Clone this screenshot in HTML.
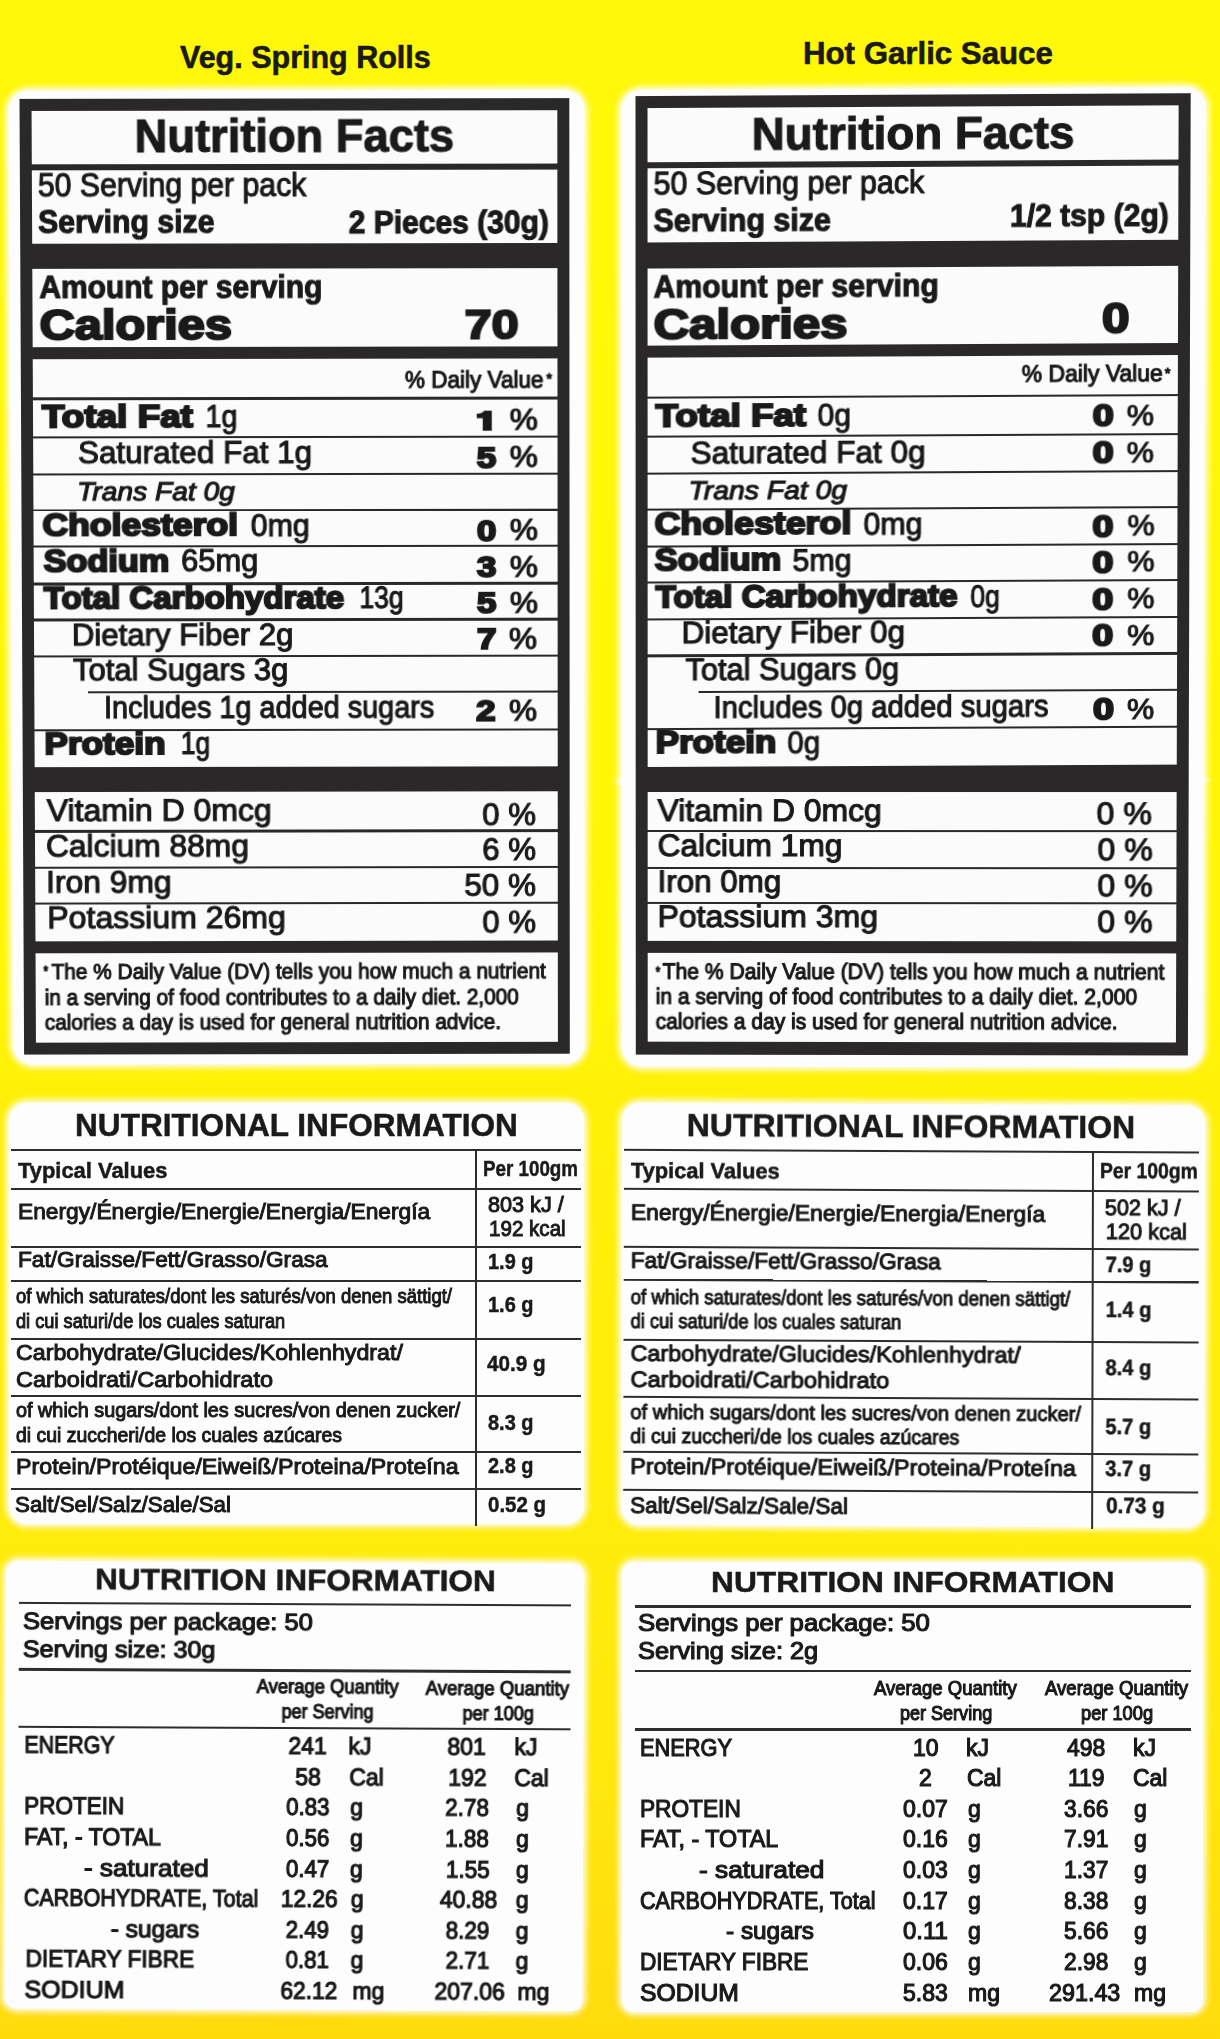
<!DOCTYPE html>
<html><head><meta charset="utf-8"><title>Nutrition labels</title>
<style>
html,body{margin:0;padding:0;}
body{width:1220px;height:2039px;overflow:hidden;position:relative;font-family:"Liberation Sans",sans-serif;color:#1a1a1a;
background:linear-gradient(180deg,#fff808 0px,#fff606 1000px,#fff008 1090px,#ffec0a 1540px,#ffe60c 1800px,#ffdb0c 2039px);}
.t{position:absolute;white-space:pre;line-height:1;transform-origin:0 84.65%;}
.r{position:absolute;}
.p{position:absolute;background:#fdfdfd;}
.g{position:absolute;left:0;top:0;width:1220px;height:2039px;}
</style></head><body>
<div class="t" style="left:179.70px;top:41.56px;font-size:31.00px;font-weight:700;-webkit-text-stroke:0.6px #1a1a1a;transform:scaleX(0.9836);">Veg. Spring Rolls</div>
<div class="t" style="left:802.60px;top:38.36px;font-size:31.00px;font-weight:700;-webkit-text-stroke:0.6px #1a1a1a;transform:scaleX(1.0070);">Hot Garlic Sauce</div>
<div class="r" style="left:23.00px;top:101.00px;width:544.00px;height:950.00px;background:#2a2828;"></div>
<div class="g" style="transform-origin:0 0;transform:matrix3d(1.00052666,-0.00143572986,0,2.03288916e-07,0.00500499194,1.00875529,0,7.86506784e-06,0,0,1,0,-0.985912916,0.147327869,0,1);">
<div class="g" style="clip-path:inset(0.0px 0 0.0px 0);">
<div class="p" style="left:9px;top:89.5px;width:575.5px;height:974.5px;border-radius:20px;box-shadow:0 0 6px 3px #fdfdfd;"></div>
<div class="r" style="left:20.00px;top:98.00px;width:550.00px;height:956.00px;background:#2a2828;"></div>
<div class="r" style="left:31.50px;top:109.68px;width:526.50px;height:53.05px;background:#fbfbfb;"></div>
<div class="r" style="left:31.50px;top:168.69px;width:526.50px;height:73.20px;background:#fbfbfb;"></div>
<div class="r" style="left:31.50px;top:267.07px;width:526.50px;height:77.70px;background:#fbfbfb;"></div>
<div class="r" style="left:31.50px;top:357.02px;width:526.50px;height:408.34px;background:#fbfbfb;"></div>
<div class="r" style="left:31.50px;top:790.25px;width:526.50px;height:149.93px;background:#fbfbfb;"></div>
<div class="r" style="left:31.50px;top:952.05px;width:526.50px;height:89.82px;background:#fbfbfb;"></div>
<div class="r" style="left:31.50px;top:395.41px;width:526.50px;height:2.20px;background:#2a2828;"></div>
<div class="r" style="left:31.50px;top:433.93px;width:526.50px;height:2.20px;background:#2a2828;"></div>
<div class="r" style="left:31.50px;top:470.77px;width:526.50px;height:2.20px;background:#2a2828;"></div>
<div class="r" style="left:31.50px;top:506.54px;width:526.50px;height:2.20px;background:#2a2828;"></div>
<div class="r" style="left:31.50px;top:543.12px;width:526.50px;height:2.20px;background:#2a2828;"></div>
<div class="r" style="left:31.50px;top:580.32px;width:526.50px;height:2.20px;background:#2a2828;"></div>
<div class="r" style="left:31.50px;top:616.45px;width:526.50px;height:2.20px;background:#2a2828;"></div>
<div class="r" style="left:31.50px;top:652.59px;width:526.50px;height:2.20px;background:#2a2828;"></div>
<div class="r" style="left:31.50px;top:726.75px;width:526.50px;height:2.20px;background:#2a2828;"></div>
<div class="r" style="left:31.50px;top:828.41px;width:526.50px;height:2.20px;background:#2a2828;"></div>
<div class="r" style="left:31.50px;top:864.87px;width:526.50px;height:2.20px;background:#2a2828;"></div>
<div class="r" style="left:31.50px;top:900.96px;width:526.50px;height:2.20px;background:#2a2828;"></div>
<div class="r" style="left:85.56px;top:689.30px;width:472.44px;height:2.20px;background:#2a2828;"></div>
<div class="t" style="left:134.74px;top:113.02px;font-size:45.50px;font-weight:700;-webkit-text-stroke:1.1px #1a1a1a;transform:scaleX(0.9959);">Nutrition Facts</div>
<div class="t" style="left:37.89px;top:168.35px;font-size:32.30px;-webkit-text-stroke:1.1px #1a1a1a;transform:scaleX(0.9351);">50 Serving per pack</div>
<div class="t" style="left:37.69px;top:204.45px;font-size:32.00px;font-weight:700;-webkit-text-stroke:1.1px #1a1a1a;transform:scaleX(0.9458);">Serving size</div>
<div class="t" style="left:348.95px;top:204.53px;font-size:32.00px;font-weight:700;-webkit-text-stroke:1.1px #1a1a1a;transform:scaleX(0.9394);">2 Pieces (30g)</div>
<div class="t" style="left:38.84px;top:268.84px;font-size:32.00px;font-weight:700;-webkit-text-stroke:1.1px #1a1a1a;transform:scaleX(0.9380);">Amount per serving</div>
<div class="t" style="left:38.79px;top:301.87px;font-size:41.50px;font-weight:700;-webkit-text-stroke:2.2px #1a1a1a;transform:scaleX(1.1776);">Calories</div>
<div class="t" style="left:465.49px;top:301.71px;font-size:41.50px;font-weight:700;-webkit-text-stroke:2.2px #1a1a1a;transform:scaleX(1.1744);">70</div>
<div class="t" style="left:405.09px;top:365.72px;font-size:23.80px;-webkit-text-stroke:1.1px #1a1a1a;transform:scaleX(0.9496);">% Daily Value</div>
<div class="t" style="left:546.50px;top:369.64px;font-size:14.00px;-webkit-text-stroke:1.1px #1a1a1a;transform:scaleX(1.0073);">*</div>
<div class="t" style="left:77.09px;top:435.45px;font-size:31.00px;-webkit-text-stroke:1.1px #1a1a1a;transform:scaleX(1.0167);">Saturated Fat 1g</div>
<div class="t" style="left:76.03px;top:475.68px;font-size:26.00px;font-style:italic;-webkit-text-stroke:1.1px #1a1a1a;transform:scaleX(1.0875);">Trans Fat 0g</div>
<div class="t" style="left:70.20px;top:616.63px;font-size:31.00px;-webkit-text-stroke:1.1px #1a1a1a;transform:scaleX(1.0092);">Dietary Fiber 2g</div>
<div class="t" style="left:71.37px;top:652.49px;font-size:31.00px;-webkit-text-stroke:1.1px #1a1a1a;transform:scaleX(1.0044);">Total Sugars 3g</div>
<div class="t" style="left:102.39px;top:689.81px;font-size:31.00px;-webkit-text-stroke:1.1px #1a1a1a;transform:scaleX(0.9349);">Includes 1g added sugars</div>
<div class="t" style="left:43.63px;top:793.08px;font-size:31.00px;-webkit-text-stroke:1.1px #1a1a1a;transform:scaleX(1.0365);">Vitamin D 0mcg</div>
<div class="t" style="left:481.74px;top:797.76px;font-size:31.00px;-webkit-text-stroke:1.1px #1a1a1a;transform:scaleX(1.0117);">0 %</div>
<div class="t" style="left:43.43px;top:828.82px;font-size:31.00px;-webkit-text-stroke:1.1px #1a1a1a;transform:scaleX(1.0308);">Calcium 88mg</div>
<div class="t" style="left:481.71px;top:833.02px;font-size:31.00px;-webkit-text-stroke:1.1px #1a1a1a;transform:scaleX(1.0117);">6 %</div>
<div class="t" style="left:43.04px;top:864.54px;font-size:31.00px;-webkit-text-stroke:1.1px #1a1a1a;transform:scaleX(1.0319);">Iron 9mg</div>
<div class="t" style="left:463.71px;top:868.89px;font-size:31.00px;-webkit-text-stroke:1.1px #1a1a1a;transform:scaleX(1.0187);">50 %</div>
<div class="t" style="left:44.08px;top:900.73px;font-size:31.00px;-webkit-text-stroke:1.1px #1a1a1a;transform:scaleX(1.0401);">Potassium 26mg</div>
<div class="t" style="left:481.64px;top:905.51px;font-size:31.00px;-webkit-text-stroke:1.1px #1a1a1a;transform:scaleX(1.0117);">0 %</div>
<div class="t" style="left:39.84px;top:962.17px;font-size:15.00px;-webkit-text-stroke:1.1px #1a1a1a;transform:scaleX(0.7863);">*</div>
<div class="t" style="left:47.75px;top:960.13px;font-size:22.30px;-webkit-text-stroke:1.1px #1a1a1a;transform:scaleX(0.9417);">The % Daily Value (DV) tells you how much a nutrient</div>
<div class="t" style="left:41.46px;top:985.78px;font-size:22.30px;-webkit-text-stroke:1.1px #1a1a1a;transform:scaleX(0.9375);">in a serving of food contributes to a daily diet. 2,000</div>
<div class="t" style="left:41.32px;top:1010.55px;font-size:22.30px;-webkit-text-stroke:1.1px #1a1a1a;transform:scaleX(0.9391);">calories a day is used for general nutrition advice.</div>
<div class="t" style="left:41.29px;top:398.50px;font-size:31.00px;font-weight:700;-webkit-text-stroke:2.1px #1a1a1a;transform:scaleX(1.1933);">Total Fat</div>
<div class="t" style="left:205.19px;top:398.65px;font-size:31.00px;-webkit-text-stroke:1.1px #1a1a1a;transform:scaleX(0.9271);">1g</div>
<svg style="position:absolute;left:477.47px;top:408.99px" width="15.10" height="20.10" viewBox="0 0 15.10 20.10"><path d="M7.55 0.00 L15.10 0.00 L15.10 20.10 L6.04 20.10 L6.04 7.44 L0.00 7.44 L0.00 3.02 L3.32 2.81 L6.04 1.61Z" fill="#1a1a1a"/></svg>
<div class="t" style="left:509.68px;top:403.45px;font-size:30.00px;-webkit-text-stroke:1.1px #1a1a1a;transform:scaleX(1.0599);">%</div>
<div class="t" style="left:41.44px;top:507.30px;font-size:31.00px;font-weight:700;-webkit-text-stroke:2.1px #1a1a1a;transform:scaleX(1.1507);">Cholesterol</div>
<div class="t" style="left:250.46px;top:507.52px;font-size:31.00px;-webkit-text-stroke:1.1px #1a1a1a;transform:scaleX(0.9802);">0mg</div>
<div class="t" style="left:476.64px;top:513.81px;font-size:29.50px;font-weight:700;-webkit-text-stroke:2.1px #1a1a1a;transform:scaleX(1.1910);">0</div>
<div class="t" style="left:509.59px;top:513.44px;font-size:30.00px;-webkit-text-stroke:1.1px #1a1a1a;transform:scaleX(1.0599);">%</div>
<div class="t" style="left:41.96px;top:542.95px;font-size:31.00px;font-weight:700;-webkit-text-stroke:2.1px #1a1a1a;transform:scaleX(1.1099);">Sodium</div>
<div class="t" style="left:180.01px;top:543.13px;font-size:31.00px;-webkit-text-stroke:1.1px #1a1a1a;transform:scaleX(1.0000);">65mg</div>
<div class="t" style="left:476.60px;top:550.21px;font-size:29.50px;font-weight:700;-webkit-text-stroke:2.1px #1a1a1a;transform:scaleX(1.1910);">3</div>
<div class="t" style="left:509.56px;top:549.85px;font-size:30.00px;-webkit-text-stroke:1.1px #1a1a1a;transform:scaleX(1.0599);">%</div>
<div class="t" style="left:42.18px;top:579.91px;font-size:31.00px;font-weight:700;-webkit-text-stroke:2.1px #1a1a1a;transform:scaleX(1.0697);">Total Carbohydrate</div>
<div class="t" style="left:358.90px;top:580.20px;font-size:31.00px;-webkit-text-stroke:1.1px #1a1a1a;transform:scaleX(0.8557);">13g</div>
<div class="t" style="left:476.56px;top:586.34px;font-size:29.50px;font-weight:700;-webkit-text-stroke:2.1px #1a1a1a;transform:scaleX(1.1910);">5</div>
<div class="t" style="left:509.52px;top:585.97px;font-size:30.00px;-webkit-text-stroke:1.1px #1a1a1a;transform:scaleX(1.0599);">%</div>
<div class="t" style="left:42.39px;top:725.55px;font-size:31.00px;font-weight:700;-webkit-text-stroke:2.1px #1a1a1a;transform:scaleX(1.1396);">Protein</div>
<div class="t" style="left:179.29px;top:725.69px;font-size:31.00px;-webkit-text-stroke:1.1px #1a1a1a;transform:scaleX(0.8602);">1g</div>
<div class="t" style="left:476.73px;top:440.66px;font-size:29.50px;font-weight:700;-webkit-text-stroke:2.1px #1a1a1a;transform:scaleX(1.1910);">5</div>
<div class="t" style="left:509.65px;top:440.29px;font-size:30.00px;-webkit-text-stroke:1.1px #1a1a1a;transform:scaleX(1.0599);">%</div>
<div class="t" style="left:476.51px;top:622.28px;font-size:29.50px;font-weight:700;-webkit-text-stroke:2.1px #1a1a1a;transform:scaleX(1.1910);">7</div>
<div class="t" style="left:509.49px;top:621.92px;font-size:30.00px;-webkit-text-stroke:1.1px #1a1a1a;transform:scaleX(1.0599);">%</div>
<div class="t" style="left:476.43px;top:694.43px;font-size:29.50px;font-weight:700;-webkit-text-stroke:2.1px #1a1a1a;transform:scaleX(1.1910);">2</div>
<div class="t" style="left:509.43px;top:694.07px;font-size:30.00px;-webkit-text-stroke:1.1px #1a1a1a;transform:scaleX(1.0599);">%</div>
</div>
</div>
<div class="r" style="left:639.00px;top:99.00px;width:548.00px;height:953.00px;background:#2a2828;"></div>
<div class="g" style="transform-origin:0 0;transform:matrix3d(1.00084456,-0.00533003745,0,-1.02880394e-06,0.00398747401,1.00429138,0,5.81265457e-06,0,0,1,0,-1.48113601,3.06867635,0,1);">
<div class="g" style="clip-path:inset(0.0px 0 1254.0px 0);">
<div class="p" style="left:622.2px;top:89.5px;width:583.3px;height:977.0px;border-radius:20px;box-shadow:0 0 6px 3px #fdfdfd;"></div>
<div class="r" style="left:636.00px;top:96.00px;width:554.00px;height:959.00px;background:#2a2828;"></div>
<div class="r" style="left:647.80px;top:108.03px;width:529.90px;height:53.82px;background:#fbfbfb;"></div>
<div class="r" style="left:647.80px;top:167.83px;width:529.90px;height:74.01px;background:#fbfbfb;"></div>
<div class="r" style="left:647.80px;top:267.89px;width:529.90px;height:77.49px;background:#fbfbfb;"></div>
<div class="r" style="left:647.80px;top:356.97px;width:529.90px;height:410.14px;background:#fbfbfb;"></div>
<div class="r" style="left:647.80px;top:792.51px;width:529.90px;height:149.46px;background:#fbfbfb;"></div>
<div class="r" style="left:647.80px;top:953.84px;width:529.90px;height:89.79px;background:#fbfbfb;"></div>
<div class="r" style="left:647.80px;top:395.84px;width:529.90px;height:2.20px;background:#2a2828;"></div>
<div class="r" style="left:647.80px;top:434.94px;width:529.90px;height:2.20px;background:#2a2828;"></div>
<div class="r" style="left:647.80px;top:471.75px;width:529.90px;height:2.20px;background:#2a2828;"></div>
<div class="r" style="left:647.80px;top:507.68px;width:529.90px;height:2.20px;background:#2a2828;"></div>
<div class="r" style="left:647.80px;top:544.62px;width:529.90px;height:2.20px;background:#2a2828;"></div>
<div class="r" style="left:647.80px;top:581.08px;width:529.90px;height:2.20px;background:#2a2828;"></div>
<div class="r" style="left:647.80px;top:617.85px;width:529.90px;height:2.20px;background:#2a2828;"></div>
<div class="r" style="left:647.80px;top:654.34px;width:529.90px;height:2.20px;background:#2a2828;"></div>
<div class="r" style="left:647.80px;top:727.76px;width:529.90px;height:2.20px;background:#2a2828;"></div>
<div class="r" style="left:647.80px;top:830.18px;width:529.90px;height:2.20px;background:#2a2828;"></div>
<div class="r" style="left:647.80px;top:867.16px;width:529.90px;height:2.20px;background:#2a2828;"></div>
<div class="r" style="left:647.80px;top:902.55px;width:529.90px;height:2.20px;background:#2a2828;"></div>
<div class="r" style="left:699.14px;top:690.87px;width:478.56px;height:2.20px;background:#2a2828;"></div>
<div class="t" style="left:751.65px;top:112.22px;font-size:45.50px;font-weight:700;-webkit-text-stroke:1.1px #1a1a1a;transform:scaleX(1.0034);">Nutrition Facts</div>
<div class="t" style="left:653.99px;top:167.32px;font-size:32.30px;-webkit-text-stroke:1.1px #1a1a1a;transform:scaleX(0.9410);">50 Serving per pack</div>
<div class="t" style="left:654.06px;top:204.14px;font-size:32.00px;font-weight:700;-webkit-text-stroke:1.1px #1a1a1a;transform:scaleX(0.9485);">Serving size</div>
<div class="t" style="left:1009.68px;top:201.21px;font-size:32.00px;font-weight:700;-webkit-text-stroke:1.1px #1a1a1a;transform:scaleX(0.9387);">1/2 tsp (2g)</div>
<div class="t" style="left:654.35px;top:269.79px;font-size:32.00px;font-weight:700;-webkit-text-stroke:1.1px #1a1a1a;transform:scaleX(0.9430);">Amount per serving</div>
<div class="t" style="left:653.59px;top:302.55px;font-size:41.50px;font-weight:700;-webkit-text-stroke:2.2px #1a1a1a;transform:scaleX(1.1837);">Calories</div>
<div class="t" style="left:1101.59px;top:299.48px;font-size:41.50px;font-weight:700;-webkit-text-stroke:2.2px #1a1a1a;transform:scaleX(1.1940);">0</div>
<div class="t" style="left:1021.54px;top:363.38px;font-size:23.80px;-webkit-text-stroke:1.1px #1a1a1a;transform:scaleX(0.9626);">% Daily Value</div>
<div class="t" style="left:1164.65px;top:367.55px;font-size:14.00px;-webkit-text-stroke:1.1px #1a1a1a;transform:scaleX(1.0073);">*</div>
<div class="t" style="left:691.05px;top:437.07px;font-size:31.00px;-webkit-text-stroke:1.1px #1a1a1a;transform:scaleX(1.0180);">Saturated Fat 0g</div>
<div class="t" style="left:689.36px;top:476.93px;font-size:26.00px;font-style:italic;-webkit-text-stroke:1.1px #1a1a1a;transform:scaleX(1.0903);">Trans Fat 0g</div>
<div class="t" style="left:682.06px;top:617.44px;font-size:31.00px;-webkit-text-stroke:1.1px #1a1a1a;transform:scaleX(1.0147);">Dietary Fiber 0g</div>
<div class="t" style="left:685.79px;top:653.83px;font-size:31.00px;-webkit-text-stroke:1.1px #1a1a1a;transform:scaleX(0.9928);">Total Sugars 0g</div>
<div class="t" style="left:714.25px;top:691.65px;font-size:31.00px;-webkit-text-stroke:1.1px #1a1a1a;transform:scaleX(0.9451);">Includes 0g added sugars</div>
<div class="t" style="left:656.12px;top:399.79px;font-size:31.00px;font-weight:700;-webkit-text-stroke:2.1px #1a1a1a;transform:scaleX(1.1870);">Total Fat</div>
<div class="t" style="left:818.43px;top:400.30px;font-size:31.00px;-webkit-text-stroke:1.1px #1a1a1a;transform:scaleX(0.9648);">0g</div>
<div class="t" style="left:1092.83px;top:402.18px;font-size:29.50px;font-weight:700;-webkit-text-stroke:2.1px #1a1a1a;transform:scaleX(1.2826);">0</div>
<div class="t" style="left:1127.31px;top:401.94px;font-size:30.00px;-webkit-text-stroke:1.1px #1a1a1a;transform:scaleX(1.0225);">%</div>
<div class="t" style="left:654.87px;top:508.06px;font-size:31.00px;font-weight:700;-webkit-text-stroke:2.1px #1a1a1a;transform:scaleX(1.1543);">Cholesterol</div>
<div class="t" style="left:864.05px;top:508.73px;font-size:31.00px;-webkit-text-stroke:1.1px #1a1a1a;transform:scaleX(0.9785);">0mg</div>
<div class="t" style="left:1093.10px;top:512.50px;font-size:29.50px;font-weight:700;-webkit-text-stroke:2.1px #1a1a1a;transform:scaleX(1.2826);">0</div>
<div class="t" style="left:1127.60px;top:512.26px;font-size:30.00px;-webkit-text-stroke:1.1px #1a1a1a;transform:scaleX(1.0225);">%</div>
<div class="t" style="left:654.85px;top:544.34px;font-size:31.00px;font-weight:700;-webkit-text-stroke:2.1px #1a1a1a;transform:scaleX(1.1152);">Sodium</div>
<div class="t" style="left:792.64px;top:544.83px;font-size:31.00px;-webkit-text-stroke:1.1px #1a1a1a;transform:scaleX(0.9802);">5mg</div>
<div class="t" style="left:1093.19px;top:548.64px;font-size:29.50px;font-weight:700;-webkit-text-stroke:2.1px #1a1a1a;transform:scaleX(1.2826);">0</div>
<div class="t" style="left:1127.69px;top:548.39px;font-size:30.00px;-webkit-text-stroke:1.1px #1a1a1a;transform:scaleX(1.0225);">%</div>
<div class="t" style="left:655.76px;top:581.42px;font-size:31.00px;font-weight:700;-webkit-text-stroke:2.1px #1a1a1a;transform:scaleX(1.0722);">Total Carbohydrate</div>
<div class="t" style="left:971.11px;top:582.27px;font-size:31.00px;-webkit-text-stroke:1.1px #1a1a1a;transform:scaleX(0.8573);">0g</div>
<div class="t" style="left:1093.28px;top:585.59px;font-size:29.50px;font-weight:700;-webkit-text-stroke:2.1px #1a1a1a;transform:scaleX(1.2826);">0</div>
<div class="t" style="left:1127.79px;top:585.35px;font-size:30.00px;-webkit-text-stroke:1.1px #1a1a1a;transform:scaleX(1.0225);">%</div>
<div class="t" style="left:655.68px;top:727.42px;font-size:31.00px;font-weight:700;-webkit-text-stroke:2.1px #1a1a1a;transform:scaleX(1.1330);">Protein</div>
<div class="t" style="left:787.85px;top:727.82px;font-size:31.00px;-webkit-text-stroke:1.1px #1a1a1a;transform:scaleX(0.9503);">0g</div>
<div class="t" style="left:1092.92px;top:439.07px;font-size:29.50px;font-weight:700;-webkit-text-stroke:2.1px #1a1a1a;transform:scaleX(1.2826);">0</div>
<div class="t" style="left:1127.41px;top:438.83px;font-size:30.00px;-webkit-text-stroke:1.1px #1a1a1a;transform:scaleX(1.0225);">%</div>
<div class="t" style="left:1093.36px;top:621.86px;font-size:29.50px;font-weight:700;-webkit-text-stroke:2.1px #1a1a1a;transform:scaleX(1.2826);">0</div>
<div class="t" style="left:1127.89px;top:621.61px;font-size:30.00px;-webkit-text-stroke:1.1px #1a1a1a;transform:scaleX(1.0225);">%</div>
<div class="t" style="left:1093.54px;top:695.95px;font-size:29.50px;font-weight:700;-webkit-text-stroke:2.1px #1a1a1a;transform:scaleX(1.2826);">0</div>
<div class="t" style="left:1128.08px;top:695.70px;font-size:30.00px;-webkit-text-stroke:1.1px #1a1a1a;transform:scaleX(1.0225);">%</div>
</div>
</div>
<div class="g" style="transform-origin:0 0;transform:matrix3d(0.992021104,-0.00461086104,0,-5.91136031e-06,0.00412507891,1.00563733,0,5.91558951e-06,0,0,1,0,2.10024397,-0.79807036,0,1);">
<div class="g" style="clip-path:inset(778.0px 0 0.0px 0);">
<div class="p" style="left:622.2px;top:89.5px;width:583.3px;height:977.0px;border-radius:20px;box-shadow:0 0 6px 3px #fdfdfd;"></div>
<div class="r" style="left:636.00px;top:96.00px;width:554.00px;height:959.00px;background:#2a2828;"></div>
<div class="r" style="left:647.80px;top:110.91px;width:529.90px;height:53.57px;background:#fbfbfb;"></div>
<div class="r" style="left:647.80px;top:170.43px;width:529.90px;height:73.67px;background:#fbfbfb;"></div>
<div class="r" style="left:647.80px;top:270.03px;width:529.90px;height:77.14px;background:#fbfbfb;"></div>
<div class="r" style="left:647.80px;top:358.71px;width:529.90px;height:408.30px;background:#fbfbfb;"></div>
<div class="r" style="left:647.80px;top:792.30px;width:529.90px;height:148.80px;background:#fbfbfb;"></div>
<div class="r" style="left:647.80px;top:952.91px;width:529.90px;height:89.40px;background:#fbfbfb;"></div>
<div class="r" style="left:647.80px;top:397.40px;width:529.90px;height:2.20px;background:#2a2828;"></div>
<div class="r" style="left:647.80px;top:436.32px;width:529.90px;height:2.20px;background:#2a2828;"></div>
<div class="r" style="left:647.80px;top:472.97px;width:529.90px;height:2.20px;background:#2a2828;"></div>
<div class="r" style="left:647.80px;top:508.73px;width:529.90px;height:2.20px;background:#2a2828;"></div>
<div class="r" style="left:647.80px;top:545.51px;width:529.90px;height:2.20px;background:#2a2828;"></div>
<div class="r" style="left:647.80px;top:581.80px;width:529.90px;height:2.20px;background:#2a2828;"></div>
<div class="r" style="left:647.80px;top:618.41px;width:529.90px;height:2.20px;background:#2a2828;"></div>
<div class="r" style="left:647.80px;top:654.74px;width:529.90px;height:2.20px;background:#2a2828;"></div>
<div class="r" style="left:647.80px;top:727.83px;width:529.90px;height:2.20px;background:#2a2828;"></div>
<div class="r" style="left:647.80px;top:829.80px;width:529.90px;height:2.20px;background:#2a2828;"></div>
<div class="r" style="left:647.80px;top:866.61px;width:529.90px;height:2.20px;background:#2a2828;"></div>
<div class="r" style="left:647.80px;top:901.84px;width:529.90px;height:2.20px;background:#2a2828;"></div>
<div class="r" style="left:699.30px;top:690.99px;width:478.40px;height:2.20px;background:#2a2828;"></div>
<div class="t" style="left:657.79px;top:794.83px;font-size:31.00px;-webkit-text-stroke:1.1px #1a1a1a;transform:scaleX(1.0310);">Vitamin D 0mcg</div>
<div class="t" style="left:1098.48px;top:797.93px;font-size:31.00px;-webkit-text-stroke:1.1px #1a1a1a;transform:scaleX(1.0360);">0 %</div>
<div class="t" style="left:657.73px;top:830.23px;font-size:31.00px;-webkit-text-stroke:1.1px #1a1a1a;transform:scaleX(1.0261);">Calcium 1mg</div>
<div class="t" style="left:1098.57px;top:833.85px;font-size:31.00px;-webkit-text-stroke:1.1px #1a1a1a;transform:scaleX(1.0360);">0 %</div>
<div class="t" style="left:657.60px;top:865.56px;font-size:31.00px;-webkit-text-stroke:1.1px #1a1a1a;transform:scaleX(1.0156);">Iron 0mg</div>
<div class="t" style="left:1098.66px;top:870.18px;font-size:31.00px;-webkit-text-stroke:1.1px #1a1a1a;transform:scaleX(1.0360);">0 %</div>
<div class="t" style="left:657.83px;top:901.25px;font-size:31.00px;-webkit-text-stroke:1.1px #1a1a1a;transform:scaleX(1.0361);">Potassium 3mg</div>
<div class="t" style="left:1098.75px;top:905.83px;font-size:31.00px;-webkit-text-stroke:1.1px #1a1a1a;transform:scaleX(1.0360);">0 %</div>
<div class="t" style="left:655.56px;top:963.77px;font-size:15.00px;-webkit-text-stroke:1.1px #1a1a1a;transform:scaleX(0.7863);">*</div>
<div class="t" style="left:662.81px;top:961.00px;font-size:22.30px;-webkit-text-stroke:1.1px #1a1a1a;transform:scaleX(0.9519);">The % Daily Value (DV) tells you how much a nutrient</div>
<div class="t" style="left:655.89px;top:986.34px;font-size:22.30px;-webkit-text-stroke:1.1px #1a1a1a;transform:scaleX(0.9483);">in a serving of food contributes to a daily diet. 2,000</div>
<div class="t" style="left:655.88px;top:1011.18px;font-size:22.30px;-webkit-text-stroke:1.1px #1a1a1a;transform:scaleX(0.9469);">calories a day is used for general nutrition advice.</div>
</div>
</div>
<div class="p" style="left:8.5px;top:1102.5px;width:575.5px;height:421.5px;border-radius:18px;box-shadow:0 0 6px 3px #fdfdfd;"></div>
<div class="r" style="left:11.00px;top:1148.80px;width:569.50px;height:2.00px;background:#2e2c2c;"></div>
<div class="r" style="left:11.00px;top:1188.00px;width:569.50px;height:2.00px;background:#2e2c2c;"></div>
<div class="r" style="left:11.00px;top:1245.80px;width:569.50px;height:2.00px;background:#2e2c2c;"></div>
<div class="r" style="left:11.00px;top:1279.60px;width:569.50px;height:2.00px;background:#2e2c2c;"></div>
<div class="r" style="left:11.00px;top:1338.40px;width:569.50px;height:2.00px;background:#2e2c2c;"></div>
<div class="r" style="left:11.00px;top:1394.90px;width:569.50px;height:2.00px;background:#2e2c2c;"></div>
<div class="r" style="left:11.00px;top:1450.90px;width:569.50px;height:2.00px;background:#2e2c2c;"></div>
<div class="r" style="left:11.00px;top:1488.20px;width:569.50px;height:2.00px;background:#2e2c2c;"></div>
<div class="r" style="left:475.00px;top:1149.80px;width:2.00px;height:376.70px;background:#2e2c2c;"></div>
<div class="t" style="left:75.00px;top:1109.11px;font-size:32.00px;font-weight:700;-webkit-text-stroke:0.5px #1a1a1a;transform:scaleX(0.9873);">NUTRITIONAL INFORMATION</div>
<div class="t" style="left:17.70px;top:1160.05px;font-size:21.80px;font-weight:700;-webkit-text-stroke:0.5px #1a1a1a;transform:scaleX(1.0055);">Typical Values</div>
<div class="t" style="left:482.90px;top:1157.85px;font-size:21.80px;font-weight:700;-webkit-text-stroke:0.5px #1a1a1a;transform:scaleX(0.8621);">Per 100gm</div>
<div class="t" style="left:17.70px;top:1201.42px;font-size:22.30px;-webkit-text-stroke:1.0px #1a1a1a;transform:scaleX(1.0201);">Energy/Énergie/Energie/Energia/Energía</div>
<div class="t" style="left:487.50px;top:1193.62px;font-size:22.30px;-webkit-text-stroke:1.0px #1a1a1a;transform:scaleX(0.9698);">803 kJ /</div>
<div class="t" style="left:489.00px;top:1218.12px;font-size:22.30px;-webkit-text-stroke:1.0px #1a1a1a;transform:scaleX(0.9233);">192 kcal</div>
<div class="t" style="left:17.70px;top:1249.42px;font-size:22.30px;-webkit-text-stroke:1.0px #1a1a1a;transform:scaleX(1.0159);">Fat/Graisse/Fett/Grasso/Grasa</div>
<div class="t" style="left:488.30px;top:1250.62px;font-size:22.30px;font-weight:700;-webkit-text-stroke:0.5px #1a1a1a;transform:scaleX(0.8949);">1.9 g</div>
<div class="t" style="left:16.00px;top:1286.36px;font-size:20.60px;-webkit-text-stroke:1.0px #1a1a1a;transform:scaleX(0.8982);">of which saturates/dont les saturés/von denen sättigt/</div>
<div class="t" style="left:16.00px;top:1310.56px;font-size:20.60px;-webkit-text-stroke:1.0px #1a1a1a;transform:scaleX(0.8839);">di cui saturi/de los cuales saturan</div>
<div class="t" style="left:488.30px;top:1294.32px;font-size:22.30px;font-weight:700;-webkit-text-stroke:0.5px #1a1a1a;transform:scaleX(0.8949);">1.6 g</div>
<div class="t" style="left:16.00px;top:1341.72px;font-size:22.30px;-webkit-text-stroke:1.0px #1a1a1a;transform:scaleX(1.0404);">Carbohydrate/Glucides/Kohlenhydrat/</div>
<div class="t" style="left:16.00px;top:1368.82px;font-size:22.30px;-webkit-text-stroke:1.0px #1a1a1a;transform:scaleX(1.0525);">Carboidrati/Carbohidrato</div>
<div class="t" style="left:487.00px;top:1352.62px;font-size:22.30px;font-weight:700;-webkit-text-stroke:0.5px #1a1a1a;transform:scaleX(0.9269);">40.9 g</div>
<div class="t" style="left:16.00px;top:1400.06px;font-size:20.60px;-webkit-text-stroke:1.0px #1a1a1a;transform:scaleX(0.9631);">of which sugars/dont les sucres/von denen zucker/</div>
<div class="t" style="left:16.00px;top:1425.36px;font-size:20.60px;-webkit-text-stroke:1.0px #1a1a1a;transform:scaleX(0.9428);">di cui zuccheri/de los cuales azúcares</div>
<div class="t" style="left:488.30px;top:1411.62px;font-size:22.30px;font-weight:700;-webkit-text-stroke:0.5px #1a1a1a;transform:scaleX(0.8949);">8.3 g</div>
<div class="t" style="left:16.00px;top:1455.72px;font-size:22.30px;-webkit-text-stroke:1.0px #1a1a1a;transform:scaleX(1.0412);">Protein/Protéique/Eiweiß/Proteina/Proteína</div>
<div class="t" style="left:488.30px;top:1455.42px;font-size:22.30px;font-weight:700;-webkit-text-stroke:0.5px #1a1a1a;transform:scaleX(0.8949);">2.8 g</div>
<div class="t" style="left:15.20px;top:1494.22px;font-size:22.30px;-webkit-text-stroke:1.0px #1a1a1a;transform:scaleX(1.0012);">Salt/Sel/Salz/Sale/Sal</div>
<div class="t" style="left:487.50px;top:1493.52px;font-size:22.30px;font-weight:700;-webkit-text-stroke:0.5px #1a1a1a;transform:scaleX(0.9190);">0.52 g</div>
<div class="g" style="transform-origin:0 0;transform:matrix3d(1,0.00467937608,0,2.52397807e-19,-0.00235294118,1,0,5.93877192e-22,0,0,1,0,2.70588235,-3.1152513,0,1);">
<div class="p" style="left:621.5px;top:1102.5px;width:583.3px;height:422.5px;border-radius:18px;box-shadow:0 0 6px 3px #fdfdfd;"></div>
<div class="r" style="left:623.50px;top:1148.87px;width:575.50px;height:2.00px;background:#2e2c2c;"></div>
<div class="r" style="left:623.50px;top:1188.17px;width:575.50px;height:2.00px;background:#2e2c2c;"></div>
<div class="r" style="left:623.50px;top:1245.67px;width:575.50px;height:2.00px;background:#2e2c2c;"></div>
<div class="r" style="left:623.50px;top:1279.47px;width:575.50px;height:2.00px;background:#2e2c2c;"></div>
<div class="r" style="left:623.50px;top:1338.87px;width:575.50px;height:2.00px;background:#2e2c2c;"></div>
<div class="r" style="left:623.50px;top:1395.87px;width:575.50px;height:2.00px;background:#2e2c2c;"></div>
<div class="r" style="left:623.50px;top:1451.27px;width:575.50px;height:2.00px;background:#2e2c2c;"></div>
<div class="r" style="left:623.50px;top:1488.87px;width:575.50px;height:2.00px;background:#2e2c2c;"></div>
<div class="r" style="left:1091.80px;top:1149.87px;width:2.00px;height:377.13px;background:#2e2c2c;"></div>
<div class="t" style="left:686.67px;top:1109.26px;font-size:32.00px;font-weight:700;-webkit-text-stroke:0.5px #1a1a1a;transform:scaleX(1.0000);">NUTRITIONAL INFORMATION</div>
<div class="t" style="left:630.97px;top:1159.86px;font-size:21.80px;font-weight:700;-webkit-text-stroke:0.5px #1a1a1a;transform:scaleX(1.0008);">Typical Values</div>
<div class="t" style="left:1099.56px;top:1158.29px;font-size:21.80px;font-weight:700;-webkit-text-stroke:0.5px #1a1a1a;transform:scaleX(0.8875);">Per 100gm</div>
<div class="t" style="left:631.07px;top:1201.82px;font-size:22.30px;-webkit-text-stroke:1.0px #1a1a1a;transform:scaleX(1.0255);">Energy/Énergie/Energie/Energia/Energía</div>
<div class="t" style="left:1105.05px;top:1194.79px;font-size:22.30px;-webkit-text-stroke:1.0px #1a1a1a;transform:scaleX(0.9698);">502 kJ /</div>
<div class="t" style="left:1105.91px;top:1218.87px;font-size:22.30px;-webkit-text-stroke:1.0px #1a1a1a;transform:scaleX(0.9763);">120 kcal</div>
<div class="t" style="left:631.18px;top:1249.56px;font-size:22.30px;-webkit-text-stroke:1.0px #1a1a1a;transform:scaleX(1.0169);">Fat/Graisse/Fett/Grasso/Grasa</div>
<div class="t" style="left:1106.38px;top:1252.15px;font-size:22.30px;font-weight:700;-webkit-text-stroke:0.5px #1a1a1a;transform:scaleX(0.8949);">7.9 g</div>
<div class="t" style="left:630.56px;top:1286.70px;font-size:20.60px;-webkit-text-stroke:1.0px #1a1a1a;transform:scaleX(0.9058);">of which saturates/dont les saturés/von denen sättigt/</div>
<div class="t" style="left:630.62px;top:1311.29px;font-size:20.60px;-webkit-text-stroke:1.0px #1a1a1a;transform:scaleX(0.8888);">di cui saturi/de los cuales saturan</div>
<div class="t" style="left:1106.09px;top:1297.06px;font-size:22.30px;font-weight:700;-webkit-text-stroke:0.5px #1a1a1a;transform:scaleX(0.9028);">1.4 g</div>
<div class="t" style="left:630.70px;top:1342.67px;font-size:22.30px;-webkit-text-stroke:1.0px #1a1a1a;transform:scaleX(1.0488);">Carbohydrate/Glucides/Kohlenhydrat/</div>
<div class="t" style="left:630.76px;top:1369.38px;font-size:22.30px;-webkit-text-stroke:1.0px #1a1a1a;transform:scaleX(1.0603);">Carboidrati/Carbohidrato</div>
<div class="t" style="left:1106.23px;top:1354.85px;font-size:22.30px;font-weight:700;-webkit-text-stroke:0.5px #1a1a1a;transform:scaleX(0.9028);">8.4 g</div>
<div class="t" style="left:630.83px;top:1401.67px;font-size:20.60px;-webkit-text-stroke:1.0px #1a1a1a;transform:scaleX(0.9769);">of which sugars/dont les sucres/von denen zucker/</div>
<div class="t" style="left:630.89px;top:1425.96px;font-size:20.60px;-webkit-text-stroke:1.0px #1a1a1a;transform:scaleX(0.9518);">di cui zuccheri/de los cuales azúcares</div>
<div class="t" style="left:1106.37px;top:1413.85px;font-size:22.30px;font-weight:700;-webkit-text-stroke:0.5px #1a1a1a;transform:scaleX(0.9028);">5.7 g</div>
<div class="t" style="left:630.97px;top:1456.44px;font-size:22.30px;-webkit-text-stroke:1.0px #1a1a1a;transform:scaleX(1.0485);">Protein/Protéique/Eiweiß/Proteina/Proteína</div>
<div class="t" style="left:1106.46px;top:1455.65px;font-size:22.30px;font-weight:700;-webkit-text-stroke:0.5px #1a1a1a;transform:scaleX(0.9028);">3.7 g</div>
<div class="t" style="left:631.06px;top:1495.08px;font-size:22.30px;-webkit-text-stroke:1.0px #1a1a1a;transform:scaleX(1.0100);">Salt/Sel/Salz/Sale/Sal</div>
<div class="t" style="left:1106.95px;top:1493.22px;font-size:22.30px;font-weight:700;-webkit-text-stroke:0.5px #1a1a1a;transform:scaleX(0.9269);">0.73 g</div>
</div>
<div class="g" style="transform-origin:0 0;transform:matrix3d(1,0.00452898551,0,-3.36118722e-19,-0.00403225806,0.999193548,0,9.96843874e-21,0,0,1,0,6.46370968,1.10669121,0,1);">
<div class="p" style="left:6px;top:1561px;width:577.5px;height:447.70000000000005px;border-radius:12px;box-shadow:0 0 6px 3px #fdfdfd;"></div>
<div class="r" style="left:19.20px;top:1601.65px;width:551.80px;height:2.50px;background:#2e2c2c;"></div>
<div class="r" style="left:19.20px;top:1668.11px;width:551.80px;height:2.50px;background:#2e2c2c;"></div>
<div class="r" style="left:19.20px;top:1725.55px;width:551.80px;height:2.50px;background:#2e2c2c;"></div>
<div class="t" style="left:94.64px;top:1563.87px;font-size:29.50px;font-weight:700;-webkit-text-stroke:0.5px #1a1a1a;transform:scaleX(1.0693);">NUTRITION INFORMATION</div>
<div class="t" style="left:22.71px;top:1610.17px;font-size:23.60px;-webkit-text-stroke:1.15px #1a1a1a;transform:scaleX(1.0836);">Servings per package: 50</div>
<div class="t" style="left:22.82px;top:1637.91px;font-size:23.60px;-webkit-text-stroke:1.15px #1a1a1a;transform:scaleX(1.0640);">Serving size: 30g</div>
<div class="t" style="left:256.56px;top:1675.34px;font-size:20.00px;-webkit-text-stroke:1.15px #1a1a1a;transform:scaleX(0.9209);">Average Quantity</div>
<div class="t" style="left:282.06px;top:1699.86px;font-size:20.00px;-webkit-text-stroke:1.15px #1a1a1a;transform:scaleX(0.8993);">per Serving</div>
<div class="t" style="left:426.06px;top:1676.17px;font-size:20.00px;-webkit-text-stroke:1.15px #1a1a1a;transform:scaleX(0.9300);">Average Quantity</div>
<div class="t" style="left:462.56px;top:1700.79px;font-size:20.00px;-webkit-text-stroke:1.15px #1a1a1a;transform:scaleX(0.9025);">per 100g</div>
<div class="t" style="left:24.71px;top:1732.70px;font-size:24.20px;-webkit-text-stroke:1.15px #1a1a1a;transform:scaleX(0.8822);">ENERGY</div>
<div class="t" style="left:289.36px;top:1732.81px;font-size:24.20px;-webkit-text-stroke:1.15px #1a1a1a;transform:scaleX(0.9500);">241</div>
<div class="t" style="left:349.46px;top:1732.84px;font-size:24.20px;-webkit-text-stroke:1.15px #1a1a1a;transform:scaleX(0.9500);">kJ</div>
<div class="t" style="left:448.46px;top:1732.89px;font-size:24.20px;-webkit-text-stroke:1.15px #1a1a1a;transform:scaleX(0.9500);">801</div>
<div class="t" style="left:514.81px;top:1732.92px;font-size:24.20px;-webkit-text-stroke:1.15px #1a1a1a;transform:scaleX(0.9500);">kJ</div>
<div class="t" style="left:295.67px;top:1763.64px;font-size:24.20px;-webkit-text-stroke:1.15px #1a1a1a;transform:scaleX(0.9500);">58</div>
<div class="t" style="left:349.74px;top:1763.67px;font-size:24.20px;-webkit-text-stroke:1.15px #1a1a1a;transform:scaleX(0.9500);">Cal</div>
<div class="t" style="left:449.28px;top:1763.71px;font-size:24.20px;-webkit-text-stroke:1.15px #1a1a1a;transform:scaleX(0.9500);">192</div>
<div class="t" style="left:515.34px;top:1763.74px;font-size:24.20px;-webkit-text-stroke:1.15px #1a1a1a;transform:scaleX(0.9500);">Cal</div>
<div class="t" style="left:24.95px;top:1794.25px;font-size:24.20px;-webkit-text-stroke:1.15px #1a1a1a;transform:scaleX(0.9306);">PROTEIN</div>
<div class="t" style="left:286.85px;top:1794.36px;font-size:24.20px;-webkit-text-stroke:1.15px #1a1a1a;transform:scaleX(0.9199);">0.83</div>
<div class="t" style="left:351.12px;top:1794.39px;font-size:24.20px;-webkit-text-stroke:1.15px #1a1a1a;transform:scaleX(0.9500);">g</div>
<div class="t" style="left:446.25px;top:1794.44px;font-size:24.20px;-webkit-text-stroke:1.15px #1a1a1a;transform:scaleX(0.9305);">2.78</div>
<div class="t" style="left:516.82px;top:1794.46px;font-size:24.20px;-webkit-text-stroke:1.15px #1a1a1a;transform:scaleX(0.9500);">g</div>
<div class="t" style="left:25.08px;top:1824.79px;font-size:24.20px;-webkit-text-stroke:1.15px #1a1a1a;transform:scaleX(0.9548);">FAT, - TOTAL</div>
<div class="t" style="left:286.98px;top:1824.89px;font-size:24.20px;-webkit-text-stroke:1.15px #1a1a1a;transform:scaleX(0.9199);">0.56</div>
<div class="t" style="left:351.25px;top:1824.91px;font-size:24.20px;-webkit-text-stroke:1.15px #1a1a1a;transform:scaleX(0.9500);">g</div>
<div class="t" style="left:446.38px;top:1824.96px;font-size:24.20px;-webkit-text-stroke:1.15px #1a1a1a;transform:scaleX(0.9305);">1.88</div>
<div class="t" style="left:516.95px;top:1824.99px;font-size:24.20px;-webkit-text-stroke:1.15px #1a1a1a;transform:scaleX(0.9500);">g</div>
<div class="t" style="left:84.70px;top:1856.04px;font-size:24.20px;-webkit-text-stroke:1.15px #1a1a1a;transform:scaleX(1.0797);">- saturated</div>
<div class="t" style="left:287.10px;top:1856.11px;font-size:24.20px;-webkit-text-stroke:1.15px #1a1a1a;transform:scaleX(0.9199);">0.47</div>
<div class="t" style="left:351.37px;top:1856.13px;font-size:24.20px;-webkit-text-stroke:1.15px #1a1a1a;transform:scaleX(0.9500);">g</div>
<div class="t" style="left:446.50px;top:1856.19px;font-size:24.20px;-webkit-text-stroke:1.15px #1a1a1a;transform:scaleX(0.9305);">1.55</div>
<div class="t" style="left:517.07px;top:1856.21px;font-size:24.20px;-webkit-text-stroke:1.15px #1a1a1a;transform:scaleX(0.9500);">g</div>
<div class="t" style="left:25.32px;top:1886.16px;font-size:24.20px;-webkit-text-stroke:1.15px #1a1a1a;transform:scaleX(0.8886);">CARBOHYDRATE, Total</div>
<div class="t" style="left:281.52px;top:1886.24px;font-size:24.20px;-webkit-text-stroke:1.15px #1a1a1a;transform:scaleX(0.9386);">12.26</div>
<div class="t" style="left:351.50px;top:1886.26px;font-size:24.20px;-webkit-text-stroke:1.15px #1a1a1a;transform:scaleX(0.9500);">g</div>
<div class="t" style="left:440.72px;top:1886.31px;font-size:24.20px;-webkit-text-stroke:1.15px #1a1a1a;transform:scaleX(0.9485);">40.88</div>
<div class="t" style="left:517.20px;top:1886.34px;font-size:24.20px;-webkit-text-stroke:1.15px #1a1a1a;transform:scaleX(0.9500);">g</div>
<div class="t" style="left:111.55px;top:1916.99px;font-size:24.20px;-webkit-text-stroke:1.15px #1a1a1a;transform:scaleX(1.0130);">- sugars</div>
<div class="t" style="left:287.35px;top:1917.06px;font-size:24.20px;-webkit-text-stroke:1.15px #1a1a1a;transform:scaleX(0.9199);">2.49</div>
<div class="t" style="left:351.62px;top:1917.08px;font-size:24.20px;-webkit-text-stroke:1.15px #1a1a1a;transform:scaleX(0.9500);">g</div>
<div class="t" style="left:447.45px;top:1917.13px;font-size:24.20px;-webkit-text-stroke:1.15px #1a1a1a;transform:scaleX(0.9263);">8.29</div>
<div class="t" style="left:517.32px;top:1917.16px;font-size:24.20px;-webkit-text-stroke:1.15px #1a1a1a;transform:scaleX(0.9500);">g</div>
<div class="t" style="left:26.57px;top:1947.29px;font-size:24.20px;-webkit-text-stroke:1.15px #1a1a1a;transform:scaleX(0.9363);">DIETARY FIBRE</div>
<div class="t" style="left:287.47px;top:1947.38px;font-size:24.20px;-webkit-text-stroke:1.15px #1a1a1a;transform:scaleX(0.9199);">0.81</div>
<div class="t" style="left:351.74px;top:1947.41px;font-size:24.20px;-webkit-text-stroke:1.15px #1a1a1a;transform:scaleX(0.9500);">g</div>
<div class="t" style="left:446.87px;top:1947.46px;font-size:24.20px;-webkit-text-stroke:1.15px #1a1a1a;transform:scaleX(0.9305);">2.71</div>
<div class="t" style="left:517.44px;top:1947.48px;font-size:24.20px;-webkit-text-stroke:1.15px #1a1a1a;transform:scaleX(0.9500);">g</div>
<div class="t" style="left:25.69px;top:1978.00px;font-size:24.20px;-webkit-text-stroke:1.15px #1a1a1a;transform:scaleX(1.0341);">SODIUM</div>
<div class="t" style="left:281.90px;top:1978.11px;font-size:24.20px;-webkit-text-stroke:1.15px #1a1a1a;transform:scaleX(0.9386);">62.12</div>
<div class="t" style="left:353.92px;top:1978.14px;font-size:24.20px;-webkit-text-stroke:1.15px #1a1a1a;transform:scaleX(0.9500);">mg</div>
<div class="t" style="left:435.50px;top:1978.18px;font-size:24.20px;-webkit-text-stroke:1.15px #1a1a1a;transform:scaleX(0.9520);">207.06</div>
<div class="t" style="left:518.72px;top:1978.21px;font-size:24.20px;-webkit-text-stroke:1.15px #1a1a1a;transform:scaleX(0.9500);">mg</div>
</div>
<div class="p" style="left:621.5px;top:1562px;width:581.5px;height:449.79999999999995px;border-radius:12px;box-shadow:0 0 6px 3px #fdfdfd;"></div>
<div class="r" style="left:634.60px;top:1605.05px;width:556.40px;height:2.50px;background:#2e2c2c;"></div>
<div class="r" style="left:634.60px;top:1669.85px;width:556.40px;height:2.50px;background:#2e2c2c;"></div>
<div class="r" style="left:634.60px;top:1728.25px;width:556.40px;height:2.50px;background:#2e2c2c;"></div>
<div class="t" style="left:711.30px;top:1566.53px;font-size:29.50px;font-weight:700;-webkit-text-stroke:0.5px #1a1a1a;transform:scaleX(1.0765);">NUTRITION INFORMATION</div>
<div class="t" style="left:638.30px;top:1612.42px;font-size:23.60px;-webkit-text-stroke:1.15px #1a1a1a;transform:scaleX(1.0907);">Servings per package: 50</div>
<div class="t" style="left:638.30px;top:1639.92px;font-size:23.60px;-webkit-text-stroke:1.15px #1a1a1a;transform:scaleX(1.0732);">Serving size: 2g</div>
<div class="t" style="left:874.30px;top:1677.87px;font-size:20.00px;-webkit-text-stroke:1.15px #1a1a1a;transform:scaleX(0.9254);">Average Quantity</div>
<div class="t" style="left:900.20px;top:1702.57px;font-size:20.00px;-webkit-text-stroke:1.15px #1a1a1a;transform:scaleX(0.9013);">per Serving</div>
<div class="t" style="left:1044.80px;top:1678.17px;font-size:20.00px;-webkit-text-stroke:1.15px #1a1a1a;transform:scaleX(0.9280);">Average Quantity</div>
<div class="t" style="left:1080.90px;top:1702.77px;font-size:20.00px;-webkit-text-stroke:1.15px #1a1a1a;transform:scaleX(0.9127);">per 100g</div>
<div class="t" style="left:639.50px;top:1735.71px;font-size:24.20px;-webkit-text-stroke:1.15px #1a1a1a;transform:scaleX(0.9018);">ENERGY</div>
<div class="t" style="left:912.84px;top:1735.71px;font-size:24.20px;-webkit-text-stroke:1.15px #1a1a1a;transform:scaleX(0.9500);">10</div>
<div class="t" style="left:966.36px;top:1735.71px;font-size:24.20px;-webkit-text-stroke:1.15px #1a1a1a;transform:scaleX(0.9500);">kJ</div>
<div class="t" style="left:1067.00px;top:1735.71px;font-size:24.20px;-webkit-text-stroke:1.15px #1a1a1a;transform:scaleX(0.9500);">498</div>
<div class="t" style="left:1132.71px;top:1735.71px;font-size:24.20px;-webkit-text-stroke:1.15px #1a1a1a;transform:scaleX(0.9500);">kJ</div>
<div class="t" style="left:919.22px;top:1766.41px;font-size:24.20px;-webkit-text-stroke:1.15px #1a1a1a;transform:scaleX(0.9500);">2</div>
<div class="t" style="left:966.76px;top:1766.41px;font-size:24.20px;-webkit-text-stroke:1.15px #1a1a1a;transform:scaleX(0.9500);">Cal</div>
<div class="t" style="left:1068.12px;top:1766.41px;font-size:24.20px;-webkit-text-stroke:1.15px #1a1a1a;transform:scaleX(0.9500);">119</div>
<div class="t" style="left:1133.11px;top:1766.41px;font-size:24.20px;-webkit-text-stroke:1.15px #1a1a1a;transform:scaleX(0.9500);">Cal</div>
<div class="t" style="left:639.50px;top:1796.61px;font-size:24.20px;-webkit-text-stroke:1.15px #1a1a1a;transform:scaleX(0.9371);">PROTEIN</div>
<div class="t" style="left:902.60px;top:1796.61px;font-size:24.20px;-webkit-text-stroke:1.15px #1a1a1a;transform:scaleX(0.9518);">0.07</div>
<div class="t" style="left:968.12px;top:1796.61px;font-size:24.20px;-webkit-text-stroke:1.15px #1a1a1a;transform:scaleX(0.9500);">g</div>
<div class="t" style="left:1063.70px;top:1796.61px;font-size:24.20px;-webkit-text-stroke:1.15px #1a1a1a;transform:scaleX(0.9412);">3.66</div>
<div class="t" style="left:1134.12px;top:1796.61px;font-size:24.20px;-webkit-text-stroke:1.15px #1a1a1a;transform:scaleX(0.9500);">g</div>
<div class="t" style="left:639.50px;top:1827.41px;font-size:24.20px;-webkit-text-stroke:1.15px #1a1a1a;transform:scaleX(0.9638);">FAT, - TOTAL</div>
<div class="t" style="left:902.60px;top:1827.41px;font-size:24.20px;-webkit-text-stroke:1.15px #1a1a1a;transform:scaleX(0.9518);">0.16</div>
<div class="t" style="left:968.12px;top:1827.41px;font-size:24.20px;-webkit-text-stroke:1.15px #1a1a1a;transform:scaleX(0.9500);">g</div>
<div class="t" style="left:1063.70px;top:1827.41px;font-size:24.20px;-webkit-text-stroke:1.15px #1a1a1a;transform:scaleX(0.9412);">7.91</div>
<div class="t" style="left:1134.12px;top:1827.41px;font-size:24.20px;-webkit-text-stroke:1.15px #1a1a1a;transform:scaleX(0.9500);">g</div>
<div class="t" style="left:699.00px;top:1857.91px;font-size:24.20px;-webkit-text-stroke:1.15px #1a1a1a;transform:scaleX(1.0841);">- saturated</div>
<div class="t" style="left:902.60px;top:1857.91px;font-size:24.20px;-webkit-text-stroke:1.15px #1a1a1a;transform:scaleX(0.9518);">0.03</div>
<div class="t" style="left:968.12px;top:1857.91px;font-size:24.20px;-webkit-text-stroke:1.15px #1a1a1a;transform:scaleX(0.9500);">g</div>
<div class="t" style="left:1063.70px;top:1857.91px;font-size:24.20px;-webkit-text-stroke:1.15px #1a1a1a;transform:scaleX(0.9412);">1.37</div>
<div class="t" style="left:1134.12px;top:1857.91px;font-size:24.20px;-webkit-text-stroke:1.15px #1a1a1a;transform:scaleX(0.9500);">g</div>
<div class="t" style="left:639.50px;top:1888.61px;font-size:24.20px;-webkit-text-stroke:1.15px #1a1a1a;transform:scaleX(0.8923);">CARBOHYDRATE, Total</div>
<div class="t" style="left:902.60px;top:1888.61px;font-size:24.20px;-webkit-text-stroke:1.15px #1a1a1a;transform:scaleX(0.9518);">0.17</div>
<div class="t" style="left:968.12px;top:1888.61px;font-size:24.20px;-webkit-text-stroke:1.15px #1a1a1a;transform:scaleX(0.9500);">g</div>
<div class="t" style="left:1063.70px;top:1888.61px;font-size:24.20px;-webkit-text-stroke:1.15px #1a1a1a;transform:scaleX(0.9412);">8.38</div>
<div class="t" style="left:1134.12px;top:1888.61px;font-size:24.20px;-webkit-text-stroke:1.15px #1a1a1a;transform:scaleX(0.9500);">g</div>
<div class="t" style="left:725.60px;top:1919.31px;font-size:24.20px;-webkit-text-stroke:1.15px #1a1a1a;transform:scaleX(1.0073);">- sugars</div>
<div class="t" style="left:902.60px;top:1919.31px;font-size:24.20px;-webkit-text-stroke:1.15px #1a1a1a;transform:scaleX(0.9900);">0.11</div>
<div class="t" style="left:968.12px;top:1919.31px;font-size:24.20px;-webkit-text-stroke:1.15px #1a1a1a;transform:scaleX(0.9500);">g</div>
<div class="t" style="left:1063.70px;top:1919.31px;font-size:24.20px;-webkit-text-stroke:1.15px #1a1a1a;transform:scaleX(0.9412);">5.66</div>
<div class="t" style="left:1134.12px;top:1919.31px;font-size:24.20px;-webkit-text-stroke:1.15px #1a1a1a;transform:scaleX(0.9500);">g</div>
<div class="t" style="left:639.50px;top:1950.11px;font-size:24.20px;-webkit-text-stroke:1.15px #1a1a1a;transform:scaleX(0.9352);">DIETARY FIBRE</div>
<div class="t" style="left:902.60px;top:1950.11px;font-size:24.20px;-webkit-text-stroke:1.15px #1a1a1a;transform:scaleX(0.9518);">0.06</div>
<div class="t" style="left:968.12px;top:1950.11px;font-size:24.20px;-webkit-text-stroke:1.15px #1a1a1a;transform:scaleX(0.9500);">g</div>
<div class="t" style="left:1063.70px;top:1950.11px;font-size:24.20px;-webkit-text-stroke:1.15px #1a1a1a;transform:scaleX(0.9412);">2.98</div>
<div class="t" style="left:1134.12px;top:1950.11px;font-size:24.20px;-webkit-text-stroke:1.15px #1a1a1a;transform:scaleX(0.9500);">g</div>
<div class="t" style="left:639.50px;top:1980.81px;font-size:24.20px;-webkit-text-stroke:1.15px #1a1a1a;transform:scaleX(1.0217);">SODIUM</div>
<div class="t" style="left:902.60px;top:1980.81px;font-size:24.20px;-webkit-text-stroke:1.15px #1a1a1a;transform:scaleX(0.9518);">5.83</div>
<div class="t" style="left:968.17px;top:1980.81px;font-size:24.20px;-webkit-text-stroke:1.15px #1a1a1a;transform:scaleX(0.9500);">mg</div>
<div class="t" style="left:1048.90px;top:1980.81px;font-size:24.20px;-webkit-text-stroke:1.15px #1a1a1a;transform:scaleX(0.9642);">291.43</div>
<div class="t" style="left:1134.02px;top:1980.81px;font-size:24.20px;-webkit-text-stroke:1.15px #1a1a1a;transform:scaleX(0.9500);">mg</div>
</body></html>
